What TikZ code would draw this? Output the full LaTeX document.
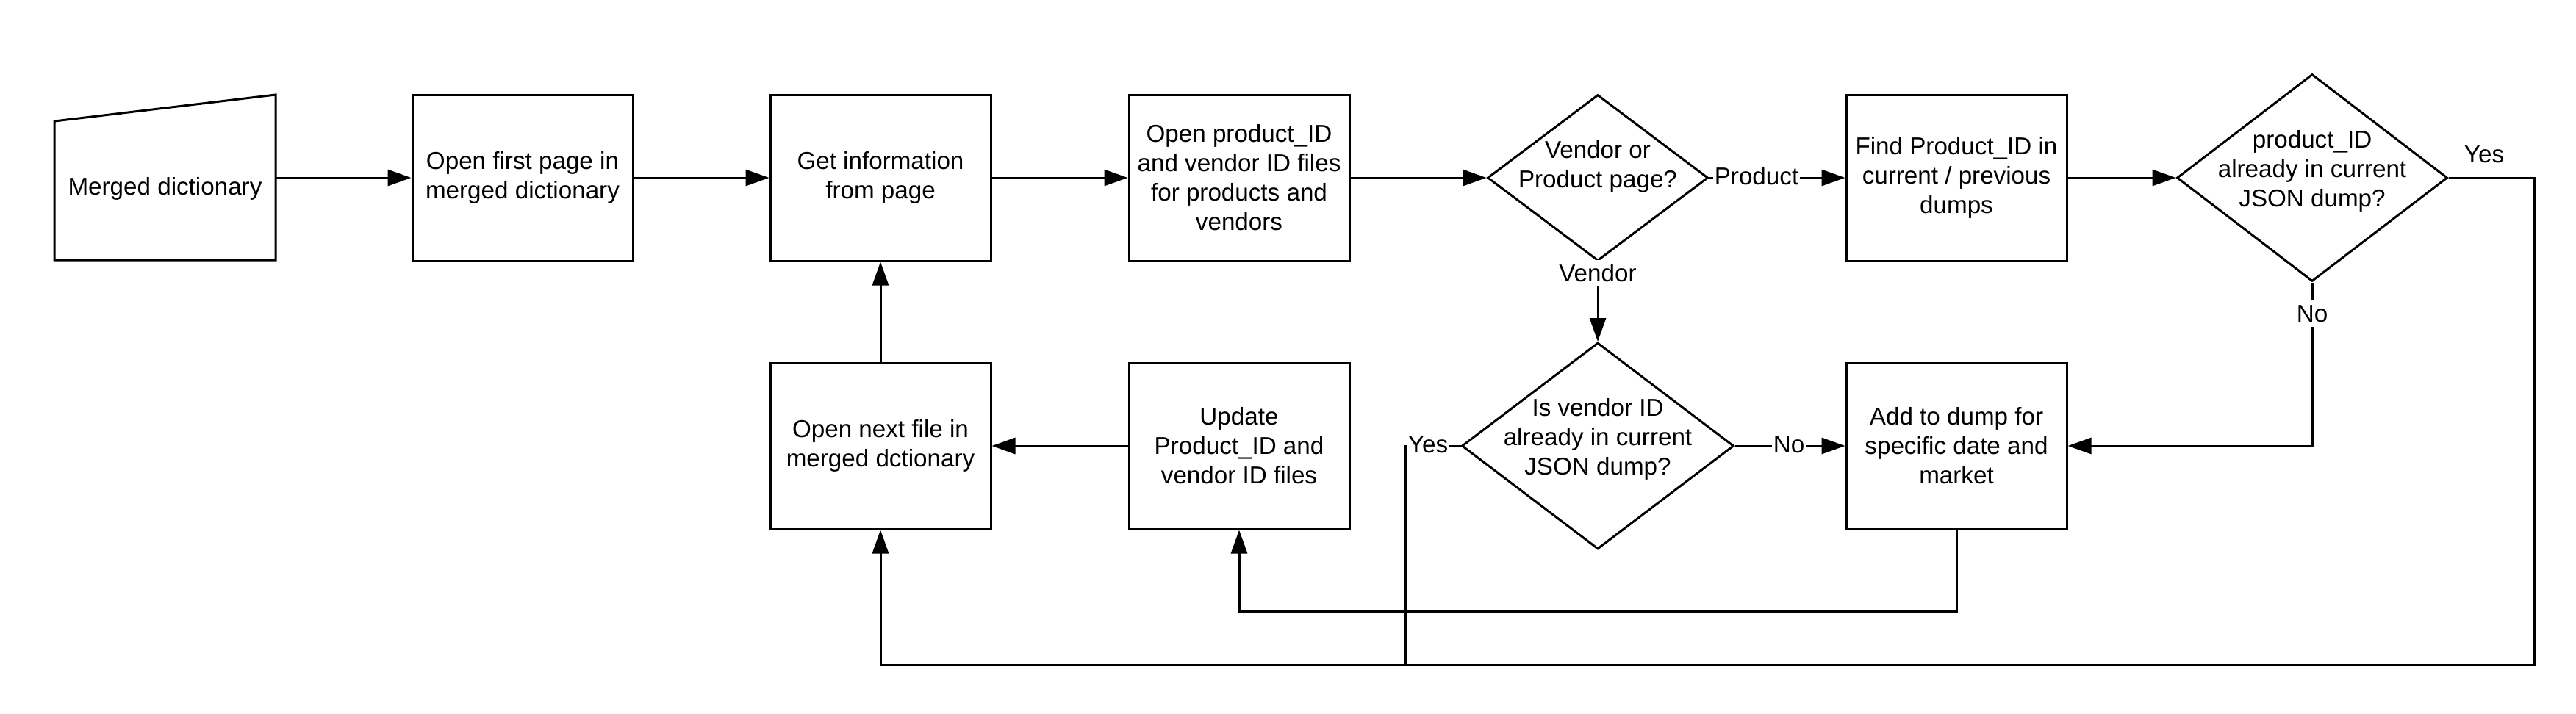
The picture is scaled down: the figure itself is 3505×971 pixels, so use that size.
\documentclass[tikz,border=0pt]{standalone}
\usepackage{fontspec}
\setmainfont{Liberation Sans}
\usetikzlibrary{shapes.geometric,arrows.meta}
\begin{document}
\begin{tikzpicture}[x=0.5pt,y=-0.5pt,
  every node/.style={font=\fontsize{16.6}{20}\selectfont},
  box/.style={draw, line width=1.5pt, minimum width=150pt, minimum height=113pt, inner sep=0pt, align=center},
  dia/.style={draw, diamond, line width=1.5pt, inner sep=0pt},
  txt/.style={align=center, inner sep=0pt},
  lbl/.style={fill=white, inner xsep=1pt, inner ysep=3pt},
  arr/.style={line width=1.5pt, -{Triangle[length=16pt,width=11pt]}},
  ln/.style={line width=1.5pt}]
\useasboundingbox (0,0) rectangle (3505,971);
\fill[white] (0,0) rectangle (3505,971);

% Merged dictionary (manual input)
\node[minimum width=150.5pt, minimum height=112.5pt, inner sep=0pt] (md) at (224.5,242) {};
\draw[ln, line join=miter] (74,354) -- (74,165) -- (375,129) -- (375,354) -- cycle;
\node[txt] (mdt) at (224.5,257) {Merged dictionary};

% Row 1
\node[box] (b2) at (711,242) {Open first page in\\merged dictionary};
\node[box] (b3) at (1198,242) {Get information\\from page};
\node[box] (b4) at (1686,242) {Open product\_ID\\and vendor ID files\\for products and\\vendors};
\node[dia, minimum width=150pt, minimum height=113pt] (d1) at (2174,242) {};
\node[txt] (d1t) at (2174,227) {Vendor or\\Product page?};
\node[box] (b5) at (2662,242) {Find Product\_ID in\\current / previous\\dumps};
\node[dia, minimum width=184pt, minimum height=141pt] (d2) at (3146,242) {};
\node[txt] (d2t) at (3146,233) {product\_ID\\already in current\\JSON dump?};

% Row 2
\node[box] (b6) at (1198,607) {Open next file in\\merged dctionary};
\node[box] (b7) at (1686,607) {Update\\Product\_ID and\\vendor ID files};
\node[dia, minimum width=185pt, minimum height=140.5pt] (d3) at (2174,607) {};
\node[txt] (d3t) at (2174,598) {Is vendor ID\\already in current\\JSON dump?};
\node[box] (b8) at (2662,607) {Add to dump for\\specific date and\\market};

% junction points
\coordinate (c1) at (3448,905);
\coordinate (j1) at (1912,905);
\coordinate (c2) at (2662,832);

% Connectors
\draw[arr] (md.east) -- (b2.west);
\draw[arr] (b2) -- (b3);
\draw[arr] (b3) -- (b4);
\draw[arr] (b4) -- (d1.west);
\draw[arr] (d1.east) -- (b5.west);
\node[lbl] (lprod) at (2390,240) {Product};
\draw[arr] (b5) -- (d2.west);
\draw[arr] (d2.east) -| (c1) -| (b6.south);
\node[txt] (lyes2) at (3380,210) {Yes};
\draw[arr] (d2.south) |- (b8.east);
\node[lbl] (lno2) at (3146,427) {No};
\draw[arr] (d1.south) -- (d3.north);
\node[lbl] (lvend) at (2174,372) {Vendor};
\draw[ln] (d3.west) -| (j1);
\node[lbl] (lyes3) at (1943,605) {Yes};
\draw[arr] (d3.east) -- (b8.west);
\node[lbl] (lno3) at (2434,605) {No};
\draw[arr] (b8.south) -- (c2) -| (b7.south);
\draw[arr] (b7.west) -- (b6.east);
\draw[arr] (b6.north) -- (b3.south);
\end{tikzpicture}
\end{document}
